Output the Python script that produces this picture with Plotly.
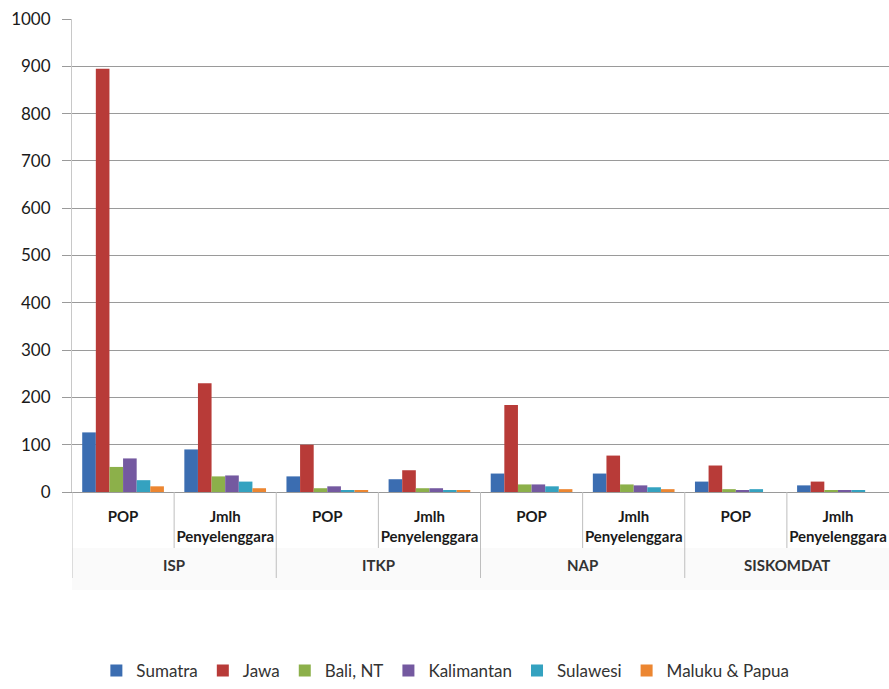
import plotly.graph_objects as go

# Service groups (outer) and measures (inner)
groups = ["ISP", "ISP", "ITKP", "ITKP", "NAP", "NAP", "SISKOMDAT", "SISKOMDAT"]
measures = ["POP", "Jmlh<br>Penyelenggara"] * 4

regions = ["Sumatra", "Jawa", "Bali, NT", "Kalimantan", "Sulawesi", "Maluku & Papua"]

sumatra = [126, 90, 33, 27, 39, 39, 22, 14]
jawa = [895, 230, 100, 46, 184, 77, 56, 22]
bali_nt = [53, 33, 8, 8, 16, 16, 6, 3]
kalimantan = [71, 35, 12, 8, 16, 14, 3, 3]
sulawesi = [25, 22, 3, 3, 12, 10, 6, 3]
maluku_papua = [12, 8, 3, 3, 6, 6, 0, 0]

series = [sumatra, jawa, bali_nt, kalimantan, sulawesi, maluku_papua]
colors = ["#3B6DB1", "#B83B38", "#8CB04A", "#7459A0", "#34A2C0", "#EC8631"]

y_ticks = [0, 100, 200, 300, 400, 500, 600, 700, 800, 900, 1000]

# one unique category key per (group, measure) pair
keys = [f"{g}|{m}" for g, m in zip(groups, measures)]

fig = go.Figure()
for name, vals, col in zip(regions, series, colors):
    fig.add_trace(go.Bar(
        name=name,
        x=keys,
        y=vals,
        marker=dict(color=col, line=dict(width=0)),
    ))

# plot area spans 473 px vertically; helper converts pixels below the axis to paper units
PLOT_H = 473.0


def below(px):
    return -px / PLOT_H


shapes = []
annotations = []

# faint band behind the outer group labels
shapes.append(dict(
    type="rect", xref="paper", yref="paper",
    x0=0, x1=1, y0=below(56), y1=below(98),
    fillcolor="#FAFAFA", line=dict(width=0), layer="below",
))

# inner dividers (between measures) and outer dividers (between groups)
for i in range(len(keys)):
    left = i - 0.5
    outer = i == 0 or groups[i] != groups[i - 1]
    shapes.append(dict(
        type="line", xref="x", yref="paper",
        x0=left, x1=left, y0=0, y1=below(86 if outer else 56),
        line=dict(color="#BEBEBE", width=1),
    ))

# outer group labels centred under their measures
seen = []
for g in groups:
    if g not in seen:
        seen.append(g)
for g in seen:
    idx = [i for i, gg in enumerate(groups) if gg == g]
    annotations.append(dict(
        x=sum(idx) / len(idx), y=below(73), xref="x", yref="paper",
        text=f"<b>{g}</b>", showarrow=False,
        font=dict(size=15, color="#333333"),
        xanchor="center", yanchor="middle",
    ))

fig.update_layout(
    width=889,
    height=689,
    barmode="group",
    bargap=0.2,
    bargroupgap=0,
    plot_bgcolor="white",
    paper_bgcolor="white",
    margin=dict(l=72, r=0, t=19, b=197),
    font=dict(family="Lato, Open Sans, sans-serif", color="#1A1A1A"),
    legend=dict(
        orientation="h",
        x=0.457,
        xanchor="center",
        yref="container",
        y=-0.008,
        yanchor="bottom",
        font=dict(size=17, color="#333333"),
        itemwidth=30,
        traceorder="normal",
    ),
    shapes=shapes,
    annotations=annotations,
)

fig.update_yaxes(
    range=[0, 1000],
    tickvals=y_ticks,
    showgrid=True,
    gridcolor="#9A9A9A",
    gridwidth=1,
    zeroline=False,
    showline=True,
    linecolor="#C8C8C8",
    linewidth=1,
    ticks="outside",
    ticklen=9,
    tickcolor="#9A9A9A",
    tickfont=dict(size=17, color="#1A1A1A"),
    ticklabelstandoff=8,
)

fig.update_xaxes(
    type="category",
    tickvals=keys,
    ticktext=measures,
    showline=True,
    linecolor="#9A9A9A",
    ticks="",
    tickfont=dict(size=15, color="#1A1A1A", weight="bold"),
    ticklabelstandoff=11,
    range=[-0.5, len(keys) - 0.5],
)

fig.write_html("out.html")
